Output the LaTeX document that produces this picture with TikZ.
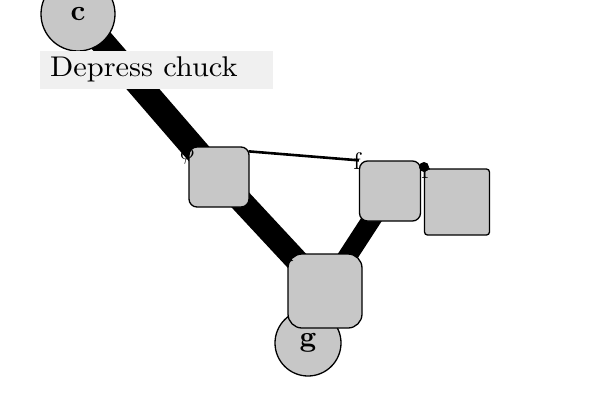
\documentclass[tikz,border=0pt]{standalone}
\definecolor{nodefill}{gray}{0.78}
\definecolor{labelbg}{gray}{0.94}
\newcommand{\bigtxt}[3]{\scalebox{#1}[#2]{#3}}
\tikzset{
  blob/.style={draw=black, line width=1.3pt, fill=nodefill, inner sep=0pt},
  circ/.style={blob, circle},
  sq/.style={blob, rectangle},
  heavy/.style={line width=#1, line cap=butt},
  tag/.style={inner sep=0pt}
}
\begin{document}
\begin{tikzpicture}[x=1pt,y=-1pt]
\useasboundingbox (0,0) rectangle (600,400);
\coordinate (cc) at (78,14);
\coordinate (b1c) at (219,177);
\coordinate (b2c) at (390,191);
\coordinate (b3c) at (325,291);
\coordinate (b4c) at (457,202);
% edges
\draw[heavy=25pt] (cc) -- (b1c);
\draw[heavy=23pt] (b1c) -- (b3c);
\draw[heavy=19pt] (b2c) -- (b3c);
% nodes
\node[circ, minimum size=74pt] (c) at (cc) {\bigtxt{2.9}{2.9}{\bfseries c}};
\node[circ, minimum size=66pt] (g) at (308,343) {\bigtxt{2.9}{2.9}{\bfseries g}};
\node[sq, minimum width=60pt, minimum height=60pt, rounded corners=8pt] (b1) at (b1c) {};
\node[sq, minimum width=61pt, minimum height=60pt, rounded corners=8pt] (b2) at (b2c) {};
\node[sq, minimum width=74pt, minimum height=74pt, rounded corners=14pt] (b3) at (b3c) {};
\node[sq, minimum width=65pt, minimum height=66pt, rounded corners=3pt] (b4) at (b4c) {};
\path (b1.north east) ++(-1,5) coordinate (t1) (b2.north west) coordinate (t2);
\draw[line width=2.6pt] (t1) -- (t2);
% label box
\node[fill=labelbg, anchor=north west, minimum width=233pt, minimum height=38pt, inner sep=0pt] (lbl) at (40,51) {};
\node[anchor=west, inner sep=0pt] (lbltxt) at ([xshift=10pt,yshift=1pt]lbl.west) {\bigtxt{3.04}{2.85}{Depress chuck}};
% small tags
\node[tag] (to) at (187,153) {\bigtxt{2.4}{2.4}{$\phi$}};
\node[tag] (tf) at (357,161) {\bigtxt{2.4}{2.4}{f}};
\node[tag] (tu) at (287,256) {\bigtxt{2.4}{2.4}{u}};
\fill (424,167) circle (5pt);
\node[tag] (tr) at (426,173) {\bigtxt{2.4}{2.4}{r}};
\end{tikzpicture}
\end{document}
